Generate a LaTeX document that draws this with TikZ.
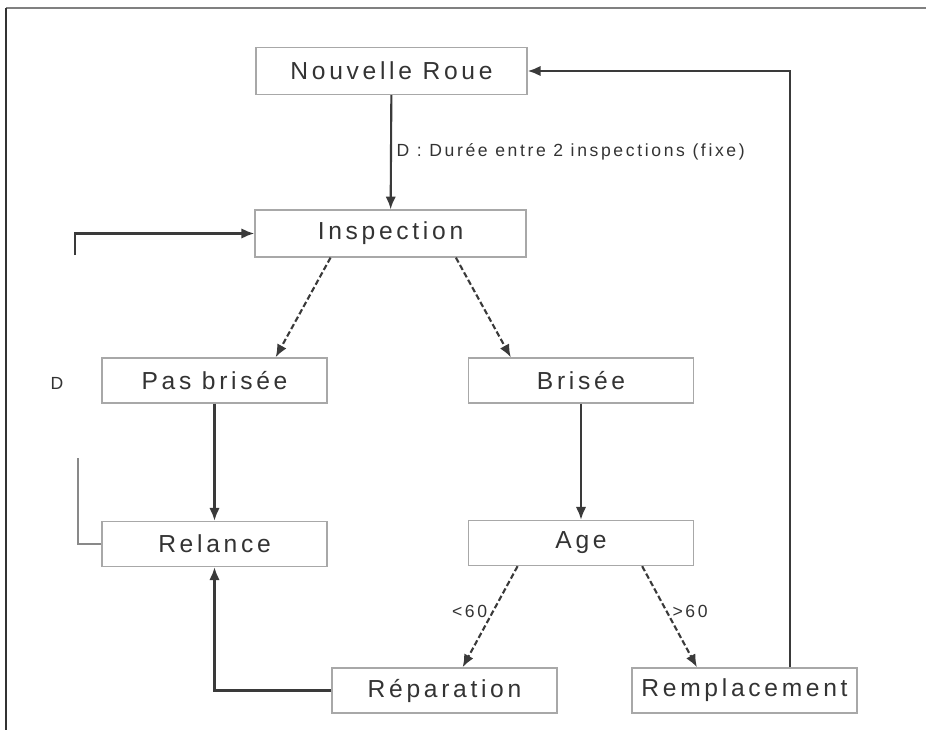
\documentclass[tikz,border=0pt]{standalone}
\usepackage{fontspec}
\setmainfont{Liberation Sans}[LetterSpace=15]
\usepackage{tikz}
\definecolor{trait}{HTML}{3A3A3A}
\definecolor{bord}{HTML}{A8A8A8}
\definecolor{texte}{HTML}{333333}
\tikzstyle{block}=[draw=bord, line width=1pt, text=texte, minimum width=5.625cm, minimum height=1.125cm, font=\fontsize{17.5}{20}\selectfont]
\tikzstyle{large}=[minimum width=6.775cm, minimum height=1.17cm]
\tikzstyle{arrow}=[draw=trait, line width=1.5pt, ->, >={Latex[length=3.2mm,width=2.6mm]}]
\tikzstyle{choix}=[arrow, dash pattern=on 4pt off 2pt]
\tikzstyle{petit}=[text=texte, font=\fontsize{12.5}{15}\selectfont]
\usetikzlibrary{arrows.meta,positioning,calc}

\begin{document}
\begin{tikzpicture}[x=0.025cm,y=-0.025cm]
\useasboundingbox (0,0) rectangle (926,730);
\draw[gray, line width=1pt] (926,8) -- (6,8);
\draw[black!80, line width=1pt] (6,8) -- (6,730);
\node (nr) [block, large] at (391.5,71) {Nouvelle Roue};
\node (insp) [block, large] at (390.5,233.5) {Inspection};
\node (pasb) [block] at (214.5,380.5) {Pas brisée};
\node (bris) [block] at (581,380.5) {Brisée};
\node (rel) [block] at (214.5,544) {Relance};
\node (age) [block] at (581,543) {Age};
\node (rep) [block] at (444.5,690.5) {Réparation};
\node (remp) [block] at (744.5,690.5) {Remplacement};
\node (d) [petit] at (57,383) {D};
\coordinate (bh) at (75,255);
\coordinate (bb) at (78,458);
\draw[arrow] (nr)--node[petit, right, midway]{D : Durée entre 2 inspections (fixe)}(insp);
\draw[choix] ($(insp.south west)!0.28!(insp.south east)$)--($(pasb.north west)!0.77!(pasb.north east)$);
\draw[choix] ($(insp.south west)!0.74!(insp.south east)$)--($(bris.north west)!0.19!(bris.north east)$);
\draw[arrow] (pasb)--(rel);
\draw[arrow] (bris)--(age);
\draw[choix] ($(age.south west)!0.22!(age.south east)$)--node[petit, left, pos=0.45]{<60}($(rep.north west)!0.58!(rep.north east)$);
\draw[choix] ($(age.south west)!0.77!(age.south east)$)--node[petit, right, pos=0.45]{>60}($(remp.north west)!0.29!(remp.north east)$);
\draw[arrow] (rep.west)-|(rel.south);
\draw[arrow] ($(remp.north west)!0.70!(remp.north east)$)|-(nr.east);
\draw[arrow] (bh)|-(insp.west);
\draw[draw=trait!60, line width=1pt] (rel.west)-|(bb);
\end{tikzpicture}
\end{document}
